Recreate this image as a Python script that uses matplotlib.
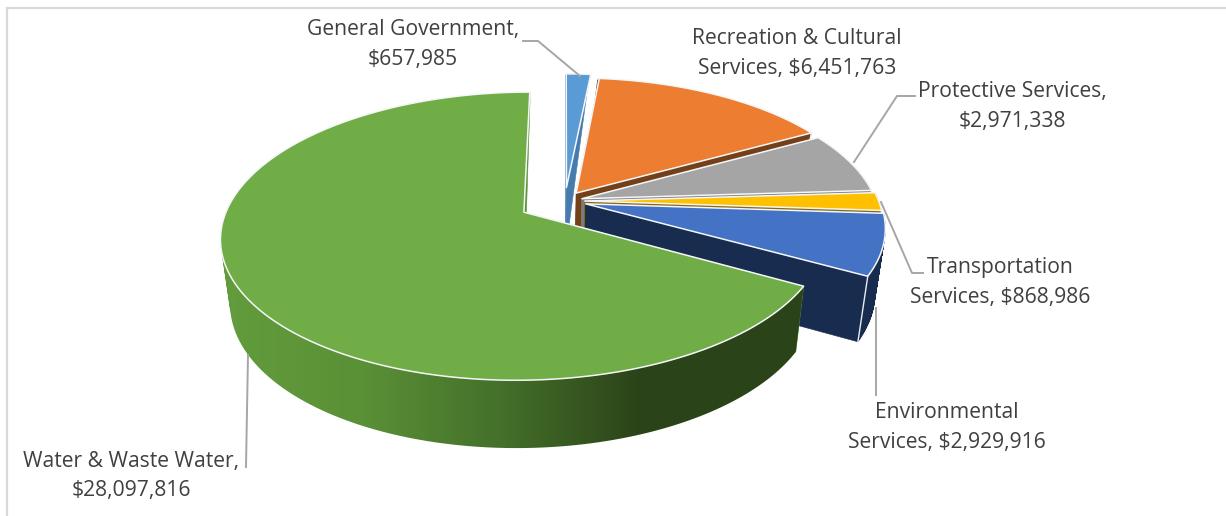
import numpy as np
import matplotlib
matplotlib.use("Agg")
import matplotlib.pyplot as plt
from matplotlib.patches import Polygon, PathPatch
from matplotlib.path import Path
from matplotlib.colors import LinearSegmentedColormap

categories = ["General Government", "Recreation & Cultural Services", "Protective Services",
              "Transportation Services", "Environmental Services", "Water & Waste Water"]
values = [657985, 6451763, 2971338, 868986, 2929916, 28097816]
explode = [0.10, 0.07, 0.06, 0.067, 0.073, 0.16]
top_colors = ["#5B9BD5", "#ED7D31", "#A5A5A5", "#FFC000", "#4472C4", "#70AD47"]
wall_colors = ["#457CAD", "#74401A", "#7C7C7C", "#8A6A10", "#182C50", "#5C9438"]
label_first = ["General Government,", "Recreation & Cultural", "Protective Services,",
               "Transportation", "Environmental", "Water & Waste Water,"]
label_second = ["{}", "Services, {}", "{}", "Services, {}", "Services, {}", "{}"]
label_pos = [(413, 30), (797, 39), (1012, 92), (1000, 268), (947, 413), (131, 461)]
leaders = [[(523, 41), (538, 41), (580, 76)], None,
           [(915, 96), (897, 96), (854, 162)],
           [(923, 273), (912, 273), (881, 202)],
           [(876, 395), (876, 308)],
           [(246, 467), (248, 355)]]

CX, CY = 565.0, 201.0
A, B, P = 136.4, 294.0, 0.164
START = 90.0


def project(X, Y):
    den = 1 + P * Y
    return CX + B * X / den, CY - A * Y / den


def extrude(X, Y):
    sx, sy = project(X, Y)
    depth = (63.5 - 4 * Y) * np.clip((1.0 - Y) / 0.7, 0.03, 1.0)
    return 540 + (sx - 540) * 0.97, sy + depth


def oriented(q):
    q = np.array(q, dtype=float)
    x, y = q[:, 0], q[:, 1]
    area = np.sum(x * np.roll(y, -1) - np.roll(x, -1) * y)
    return q if area > 0 else q[::-1]


fig = plt.figure(figsize=(12.26, 5.16), dpi=100)
ax = fig.add_axes([0, 0, 1, 1])
ax.axis("off")
plt.rcParams["font.family"] = "Open Sans"

ax.plot([7, 7, 1226], [516, 7.5, 7.5], color="#D9D9D9", lw=1.6, zorder=1, solid_joinstyle="miter")

grad = LinearSegmentedColormap.from_list("g", ["#629C3C", "#5A9036", "#44702A", "#2B4318"])
shares = np.array(values) / np.sum(values) * 360.0
ang = START
z = 2
for i, sh in enumerate(shares):
    a0, a1 = ang, ang - sh
    ang = a1
    mid = np.deg2rad((a0 + a1) / 2)
    ox, oy = explode[i] * np.cos(mid), explode[i] * np.sin(mid)
    th = np.deg2rad(np.linspace(a0, a1, max(int(sh * 1.5), 6)))
    Xs, Ys = ox + np.cos(th), oy + np.sin(th)
    tx, ty = project(Xs, Ys)
    bx, by = extrude(Xs, Ys)
    ax_, ay_ = project(ox, oy)
    abx, aby = extrude(ox, oy)
    for k in (0, -1):
        ax.add_patch(Polygon([(ax_, ay_), (tx[k], ty[k]), (bx[k], by[k]), (abx, aby)],
                             fc=wall_colors[i], ec=wall_colors[i], lw=0.4, zorder=z))
        z += 1
    quads = [oriented([(tx[k], ty[k]), (tx[k + 1], ty[k + 1]), (bx[k + 1], by[k + 1]), (bx[k], by[k])])
             for k in range(len(th) - 1) if Ys[k] < 0.3]
    if quads:
        paths = [Path(np.vstack([q, q[:1]]), closed=True) for q in quads]
        wall = Path.make_compound_path(*paths)
        if i == 5:
            clip = PathPatch(wall, fc="none", ec="none", transform=ax.transData)
            ax.add_patch(clip)
            for data, ext in [(np.linspace(0, 1, 256).reshape(1, -1), (225, 640, 480, 200)),
                              (np.zeros((1, 2)), (200, 225, 480, 200)),
                              (np.ones((1, 2)), (640, 860, 480, 200))]:
                im = ax.imshow(data, cmap=grad, vmin=0, vmax=1, extent=ext, aspect="auto", zorder=z)
                im.set_clip_path(clip)
        else:
            ax.add_patch(PathPatch(wall, fc=wall_colors[i], ec=wall_colors[i], lw=0.4, zorder=z))
    z += 1
    ax.plot([tx[-1], bx[-1]], [ty[-1], by[-1]], color="#E8ECF0", lw=1.0, zorder=z)
    z += 1
    pts = [(ax_, ay_)] + list(zip(tx, ty))
    ax.add_patch(Polygon(pts, closed=True, fc=top_colors[i], ec="#F4F6F8", lw=1.1, zorder=z, joinstyle="round"))
    z += 1

for pts in leaders:
    if pts:
        xs, ys = zip(*pts)
        ax.plot(xs, ys, color="#A6A6A6", lw=1.4, zorder=z)
z += 1

for i, (x, y) in enumerate(label_pos):
    money = f"${values[i]:,}"
    ax.text(x, y, label_first[i], ha="center", va="center", fontsize=15.2, color="#404040", zorder=z)
    ax.text(x, y + 29.5, label_second[i].format(money), ha="center", va="center", fontsize=15.2, color="#404040", zorder=z)

ax.set_xlim(0, 1226)
ax.set_ylim(516, 0)
fig.savefig("out.png", dpi=100)
